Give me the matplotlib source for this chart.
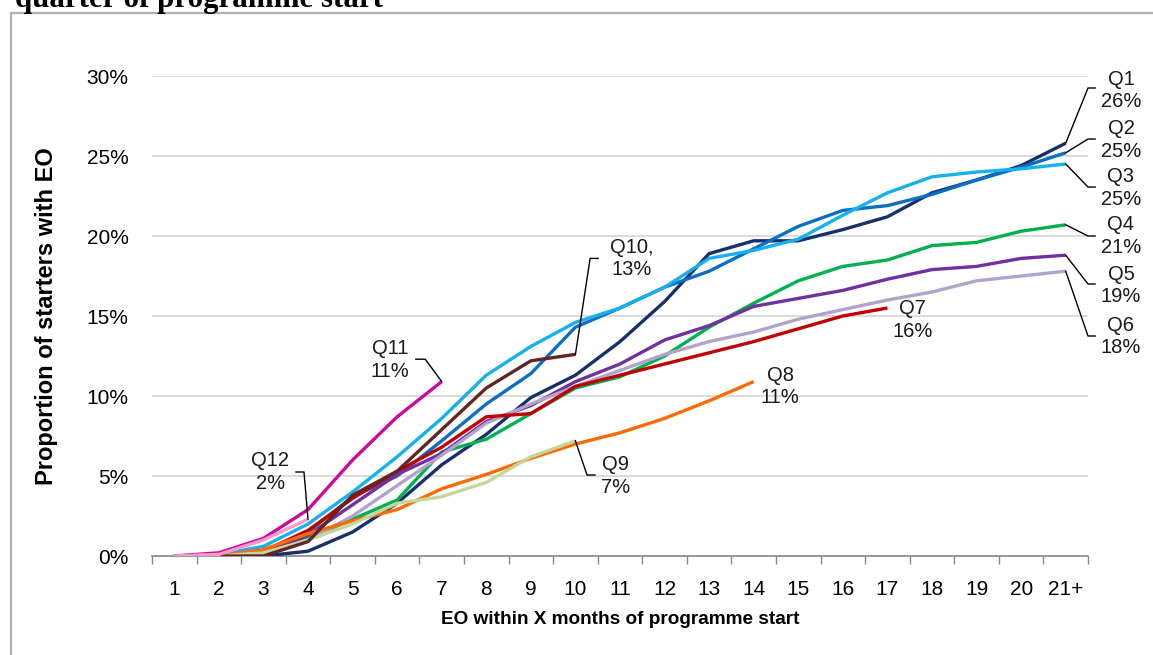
import matplotlib
matplotlib.use("Agg")
import matplotlib.pyplot as plt
from matplotlib.lines import Line2D
from matplotlib.ticker import FixedLocator, PercentFormatter

plt.rcParams['font.family'] = ['Liberation Sans', 'DejaVu Sans']

# Months since programme start (category axis)
months = [str(m) for m in range(1, 21)] + ["21+"]

# Cumulative proportion of starters with EO (%), by quarter of programme start
q1 = [0.0, 0.0, 0.0, 0.3, 1.5, 3.3, 5.7, 7.6, 9.9, 11.3, 13.4, 15.9, 18.9, 19.7, 19.7, 20.4, 21.2, 22.7, 23.5, 24.4, 25.8]
q2 = [0.0, 0.0, 0.2, 1.5, 3.7, 5.0, 7.2, 9.5, 11.4, 14.3, 15.5, 16.8, 17.8, 19.2, 20.6, 21.6, 21.9, 22.6, 23.5, 24.3, 25.2]
q3 = [0.0, 0.1, 0.6, 2.0, 4.0, 6.2, 8.6, 11.3, 13.1, 14.6, 15.5, 16.8, 18.6, 19.1, 19.8, 21.3, 22.7, 23.7, 24.0, 24.2, 24.5]
q4 = [0.0, 0.0, 0.1, 1.1, 2.3, 3.5, 6.5, 7.3, 8.9, 10.5, 11.2, 12.5, 14.3, 15.8, 17.2, 18.1, 18.5, 19.4, 19.6, 20.3, 20.7]
q5 = [0.0, 0.0, 0.1, 1.3, 3.2, 5.1, 6.4, 8.4, 9.4, 10.9, 12.0, 13.5, 14.4, 15.6, 16.1, 16.6, 17.3, 17.9, 18.1, 18.6, 18.8]
q6 = [0.0, 0.0, 0.1, 1.0, 2.5, 4.4, 6.3, 8.3, 9.5, 10.6, 11.6, 12.6, 13.4, 14.0, 14.8, 15.4, 16.0, 16.5, 17.2, 17.5, 17.8]
q7 = [0.0, 0.0, 0.3, 1.6, 3.6, 5.3, 6.8, 8.7, 8.9, 10.6, 11.3, 12.0, 12.7, 13.4, 14.2, 15.0, 15.5]
q8 = [0.0, 0.0, 0.4, 1.4, 2.2, 2.9, 4.2, 5.1, 6.1, 7.0, 7.7, 8.6, 9.7, 10.9]
q9 = [0.0, 0.0, 0.2, 1.0, 2.0, 3.3, 3.7, 4.6, 6.2, 7.2]
q10 = [0.0, 0.0, 0.0, 0.9, 3.8, 5.3, 7.9, 10.5, 12.2, 12.6]
q11 = [0.0, 0.2, 1.1, 2.9, 6.0, 8.7, 10.9]
q12 = [0.0, 0.1, 1.0, 2.3]

series_names = ["Q1", "Q2", "Q3", "Q4", "Q5", "Q6", "Q7", "Q8", "Q9", "Q10", "Q11", "Q12"]
series_values = [q1, q2, q3, q4, q5, q6, q7, q8, q9, q10, q11, q12]
series_labels = ["Q1\n26%", "Q2\n25%", "Q3\n25%", "Q4\n21%", "Q5\n19%", "Q6\n18%",
                 "Q7\n16%", "Q8\n11%", "Q9\n7%", "Q10,\n13%", "Q11\n11%", "Q12\n2%"]
colors = ["#17306b", "#0a6fc0", "#15b0ee", "#00b050", "#7030a0", "#b3a2cc",
          "#c00000", "#ff6a00", "#c3d69b", "#632523", "#cc0a99", "#ff99cc"]

# label centre (x in category units, y in %) and leader-line elbow points
label_pos = {
    "Q1": (22.24, 29.1), "Q2": (22.24, 26.0), "Q3": (22.24, 23.0), "Q4": (22.24, 20.0),
    "Q5": (22.24, 16.9), "Q6": (22.24, 13.7), "Q7": (17.57, 14.75), "Q8": (14.59, 10.6),
    "Q9": (10.89, 5.0), "Q10": (11.27, 18.6), "Q11": (5.84, 12.25), "Q12": (3.15, 5.25),
}
leaders = {
    "Q1": [(21.5, 29.25), (21.66, 29.25)],
    "Q2": [(21.5, 26.06), (21.66, 26.06)],
    "Q3": [(21.5, 23.06), (21.66, 23.06)],
    "Q4": [(21.5, 20.0), (21.66, 20.0)],
    "Q5": [(21.5, 17.0), (21.66, 17.0)],
    "Q6": [(21.5, 13.75), (21.66, 13.75)],
    "Q9": [(10.26, 5.06), (10.44, 5.06)],
    "Q10": [(10.33, 18.6), (10.51, 18.6)],
    "Q11": [(6.63, 12.3), (6.42, 12.3)],
    "Q12": [(3.91, 5.25), (3.73, 5.25)],
}

W, H = 1153, 655
fig = plt.figure(figsize=(W / 100, H / 100), dpi=100)

# document frame around the chart
fig.add_artist(Line2D([11 / W, 11 / W], [0, 1 - 13 / H], transform=fig.transFigure,
                      color="#b0b0b0", lw=1.6))
fig.add_artist(Line2D([11 / W, 1], [1 - 13 / H, 1 - 13 / H], transform=fig.transFigure,
                      color="#b0b0b0", lw=1.6))

# heading, partly clipped at the top edge
title = fig.text(15 / W, 1 - 7 / H, "quarter of programme start", family="Liberation Serif",
                 weight="bold", fontsize=20, ha="left", va="baseline")
fig.canvas.draw()
tw = title.get_window_extent().width
title.set_fontsize(20 * 368 / tw)

ax = fig.add_axes([152 / W, 1 - 556 / H, (1088 - 152) / W, (556 - 76) / H])
ax.set_xlim(0.5, 21.5)
ax.set_ylim(0, 30)

for name, vals, col in zip(series_names, series_values, colors):
    xs = list(range(1, len(vals) + 1))
    ax.plot(xs, vals, color=col, lw=2.4, solid_joinstyle="round", solid_capstyle="butt", zorder=3)

for name, vals, lab in zip(series_names, series_values, series_labels):
    end = (len(vals), vals[-1])
    if name in leaders:
        pts = [end] + leaders[name]
        ax.plot([p[0] for p in pts], [p[1] for p in pts], color="black", lw=1.0,
                clip_on=False, zorder=4)
    lx, ly = label_pos[name]
    ax.text(lx, ly, lab, ha="center", va="center", multialignment="center",
            fontsize=14.5, linespacing=1.22, clip_on=False, color="#1a1a1a")

# gridlines and axes styling
ax.set_yticks(range(0, 31, 5))
ax.yaxis.set_major_formatter(PercentFormatter(decimals=0))
ax.grid(axis="y", color="#d9d9d9", lw=1.3, zorder=0)
ax.set_axisbelow(True)
ax.tick_params(axis="y", length=0, labelsize=15, pad=17)

ax.set_xticks(range(1, 22))
ax.set_xticklabels(months)
ax.xaxis.set_minor_locator(FixedLocator([i + 0.5 for i in range(0, 22)]))
ax.tick_params(axis="x", which="major", length=0, labelsize=15, pad=17)
ax.tick_params(axis="x", which="minor", length=6, width=1, color="#888888", direction="out")

for s in ["top", "right", "left"]:
    ax.spines[s].set_visible(False)
ax.spines["bottom"].set_color("#888888")
ax.spines["bottom"].set_linewidth(1.2)

fig.text(620 / W, 1 - 619 / H, "EO within X months of programme start", ha="center",
         va="center", fontsize=13.7, weight="bold")
fig.text(47 / W, 1 - 316 / H, "Proportion of starters with EO", ha="center", va="center",
         rotation=90, fontsize=17, weight="bold")

fig.savefig("out.png", dpi=100)
